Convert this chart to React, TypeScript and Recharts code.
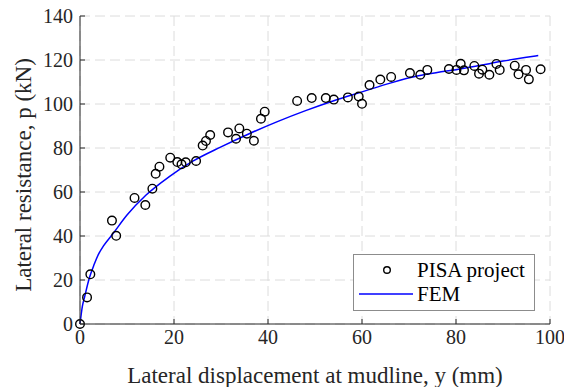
import React from 'react';
import {
  ComposedChart, Scatter, Line, XAxis, YAxis, CartesianGrid, Legend,
} from 'recharts';

// ── Data ──────────────────────────────────────────────────────────────────────
const pisaX = [
  0, 1.5, 2.2, 6.8, 7.7, 11.6, 13.9, 15.4, 16.1, 16.9, 19.2, 20.7, 21.6, 22.5,
  24.7, 26.1, 26.8, 27.7, 31.5, 33.2, 33.9, 35.5, 37.0, 38.5, 39.3,
  46.2, 49.3, 52.3, 54.0, 57.0, 59.3, 60.0, 61.6, 63.9, 66.2, 70.2, 72.4, 73.9,
  78.5, 80.1, 81.0, 81.7, 83.9, 84.9, 85.6, 87.1, 88.6, 89.3, 92.5, 93.3, 94.9, 95.5, 98.0,
];
const pisaP = [
  0, 12.1, 22.6, 47.0, 40.1, 57.3, 54.1, 61.5, 68.3, 71.5, 75.6, 73.6, 72.6, 73.5,
  74.1, 81.1, 83.2, 85.9, 87.1, 84.2, 88.9, 86.5, 83.3, 93.3, 96.5,
  101.4, 102.7, 102.7, 102.0, 103.0, 103.4, 100.1, 108.6, 111.1, 112.3, 114.1, 113.3, 115.5,
  115.9, 115.5, 118.3, 115.3, 117.3, 113.8, 115.6, 113.3, 118.2, 115.5, 117.4, 113.5, 115.5, 111.2, 115.8,
];

const femX = [0, 0.5, 1, 2, 3, 4, 5, 7, 10, 14, 19, 24, 30, 36, 42, 48, 54, 60, 66, 72, 76, 80, 85, 90, 95, 97.5];
const femP = [0, 8, 12.5, 21, 27, 32, 35.5, 41, 49.5, 58.5, 67, 74, 80.5, 86.5, 92, 97, 101.5, 105.5, 109.5, 112.8, 114.3, 115.6, 117.5, 119.5, 121.2, 122];

const xTicks = [0, 20, 40, 60, 80, 100];
const yTicks = [0, 20, 40, 60, 80, 100, 120, 140];

const pisaData = pisaX.map((x, i) => ({ x, y: pisaP[i] }));
const femData = femX.map((x, i) => ({ x, y: femP[i] }));

const FONT = '"Liberation Serif", "Times New Roman", serif';
const AXIS = '#262626';
const TICK_LEN = 5;

// ── Inward MATLAB-style ticks ─────────────────────────────────────────────────
const BottomTick = ({ x, y, payload }: any) => (
  <g>
    <line x1={x} y1={y} x2={x} y2={y - TICK_LEN} stroke={AXIS} strokeWidth={1} />
    <text x={x} y={y + 20} textAnchor="middle" fill={AXIS} fontSize={20} fontFamily={FONT}>
      {payload.value}
    </text>
  </g>
);

const LeftTick = ({ x, y, payload }: any) => (
  <g>
    <line x1={x} y1={y} x2={x + TICK_LEN} y2={y} stroke={AXIS} strokeWidth={1} />
    <text x={x - 7} y={y} dy="0.34em" textAnchor="end" fill={AXIS} fontSize={20} fontFamily={FONT}>
      {payload.value}
    </text>
  </g>
);

const TopTick = ({ x, y }: any) => (
  <line x1={x} y1={y} x2={x} y2={y + TICK_LEN} stroke={AXIS} strokeWidth={1} />
);

const RightTick = ({ x, y }: any) => (
  <line x1={x} y1={y} x2={x - TICK_LEN} y2={y} stroke={AXIS} strokeWidth={1} />
);

const Marker = ({ cx, cy }: any) => (
  <circle cx={cx} cy={cy} r={4.3} fill="none" stroke="#000" strokeWidth={1.4} />
);

// rotated y title, nudged a few px below the plot centre like the reference
const YTitle = ({ viewBox }: any) => {
  const cy = viewBox.y + viewBox.height / 2 + 5;
  return (
    <text x={23} y={cy} transform={`rotate(-90 23 ${cy})`} dy="0.34em" textAnchor="middle"
          fill={AXIS} fontSize={23} fontFamily={FONT}>
      Lateral resistance, p (kN)
    </text>
  );
};

// ── Legend box ────────────────────────────────────────────────────────────────
const LegendBox = () => (
  <svg width={182} height={57} style={{ display: 'block' }}>
    <rect x={0.5} y={0.5} width={181} height={56} fill="#fff" stroke="#8c8c8c" strokeWidth={1} />
    <circle cx={34} cy={16} r={3.3} fill="none" stroke="#000" strokeWidth={1.4} />
    <text x={64} y={16} dy="0.34em" fill="#000" fontSize={21} fontFamily={FONT}>PISA project</text>
    <line x1={6} y1={40} x2={60} y2={40} stroke="#0000ff" strokeWidth={1.5} />
    <text x={64} y={40} dy="0.34em" fill="#000" fontSize={21} fontFamily={FONT}>FEM</text>
  </svg>
);

export default function App() {
  return (
    <div style={{ position: 'absolute', left: 0, top: 0, background: '#fff' }}>
      <ComposedChart width={564} height={387} margin={{ top: 16, right: 14, bottom: 0, left: 0 }}>
        <CartesianGrid stroke="#dcdcdc" strokeDasharray="10 5" />

        <XAxis
          type="number" dataKey="x" domain={[0, 100]} ticks={xTicks}
          height={63} tickSize={0} tickMargin={0} tick={<BottomTick />}
          axisLine={{ stroke: AXIS }} tickLine={false} interval={0}
          label={{ value: 'Lateral displacement at mudline, y (mm)', position: 'insideBottom', offset: 4,
                   fill: AXIS, fontSize: 23, fontFamily: FONT }}
        />
        <XAxis
          xAxisId="top" orientation="top" type="number" dataKey="x" domain={[0, 100]} ticks={xTicks}
          height={0} tickSize={0} tickMargin={0} tick={<TopTick />}
          axisLine={{ stroke: AXIS }} tickLine={false} interval={0}
        />
        <YAxis
          type="number" dataKey="y" domain={[0, 140]} ticks={yTicks}
          width={80} tickSize={0} tickMargin={0} tick={<LeftTick />}
          axisLine={{ stroke: AXIS }} tickLine={false} interval={0}
          label={{ content: <YTitle /> }}
        />
        <YAxis
          yAxisId="right" orientation="right" type="number" dataKey="y" domain={[0, 140]} ticks={yTicks}
          width={0} tickSize={0} tickMargin={0} tick={<RightTick />}
          axisLine={{ stroke: AXIS }} tickLine={false} interval={0}
        />

        <Line
          data={femData} dataKey="y" type="monotone" stroke="#0000ff" strokeWidth={1.5}
          dot={false} activeDot={false} isAnimationActive={false} name="FEM"
        />
        <Scatter
          data={pisaData} dataKey="y" shape={<Marker />} isAnimationActive={false} name="PISA project"
        />

        <Legend
          layout="vertical" align="center" verticalAlign="middle"
          content={<LegendBox />}
          wrapperStyle={{ position: 'absolute', left: 353, top: 254, width: 182, height: 57 }}
        />
      </ComposedChart>
    </div>
  );
}
